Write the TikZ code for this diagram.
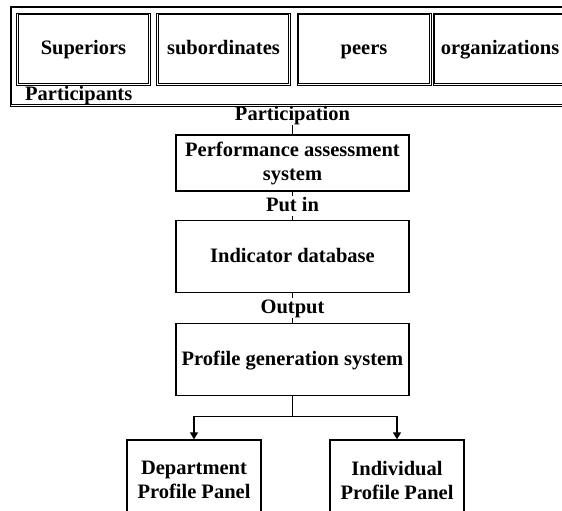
\documentclass[tikz,border=0pt]{standalone}
\usepackage{fontspec}
\setmainfont{Liberation Serif}
\usetikzlibrary{arrows.meta}
\begin{document}
\begin{tikzpicture}[x=1pt,y=-1pt,
  txt/.style={font=\fontsize{20.5}{24}\bfseries\selectfont, align=center},
  strut/.style={text height=15pt, text depth=3.5pt},
  box/.style={txt, draw, line width=1.4pt, inner sep=0pt},
  dbox/.style={txt, strut, draw, line width=0.9pt, inner sep=0pt,
    append after command={
      \pgfextra{\draw[line width=0.9pt]
        ([shift={(2.3pt,-2.3pt)}]\tikzlastnode.north west) rectangle
        ([shift={(-2.3pt,2.3pt)}]\tikzlastnode.south east);}}},
  lbl/.style={txt, strut, fill=white, inner sep=0.5pt},
  conn/.style={line width=1.4pt},
  arr/.style={conn, -{Triangle[length=7pt,width=8pt]}}]
\useasboundingbox (0,0) rectangle (562,511);
\clip (0,0) rectangle (562,511);

% participants group: four source boxes
\node[dbox, minimum width=134pt, minimum height=72pt] (sup) at (83.5,49) {Superiors};
\node[dbox, minimum width=134pt, minimum height=72pt] (sub) at (223.5,49) {subordinates};
\node[dbox, minimum width=134pt, minimum height=72pt] (peer) at (364,49) {peers};
\node[dbox, minimum width=134pt, minimum height=72pt] (org) at (500,49) {organizations};
\node[txt, anchor=base west, inner sep=0pt] (plab) at (25,100.5) {Participants};
\coordinate (gbot) at (292.5,106);

% main chain
\node[box, minimum width=233pt, minimum height=56pt] (perf) at (292.5,163) {Performance assessment\\system};
\node[box, strut, minimum width=233pt, minimum height=72pt] (ind) at (292.5,256.7) {Indicator database};
\node[box, strut, minimum width=233pt, minimum height=72.4pt] (prof) at (292.5,359.5) {Profile generation system};

\draw[conn] (gbot) -- (perf.north);
\draw[conn] (perf.south) -- (ind.north);
\draw[conn] (ind.south) -- (prof.north);
\node[lbl] (l1) at (292.5,114.8) {Participation};
\node[lbl] (l2) at (292.5,206) {Put in};
\node[lbl] (l3) at (292.5,308.2) {Output};

% double frame of the participants group, drawn last so it stays on top
\draw[line width=0.7pt] (10,6) rectangle (600,106.5);
\draw[line width=0.7pt] (11.8,7.8) rectangle (600,104.7);

% output panels
\node[box, minimum width=134pt, minimum height=80pt] (dept) at (194,480) {Department\\Profile Panel};
\node[box, minimum width=134pt, minimum height=80pt] (indiv) at (397,480) {Individual\\Profile Panel};
\draw[conn] (prof.south) -- ++(0,20) coordinate (split);
\draw[arr] (split) -| (dept.north);
\draw[arr] (split) -| (indiv.north);
\end{tikzpicture}
\end{document}
